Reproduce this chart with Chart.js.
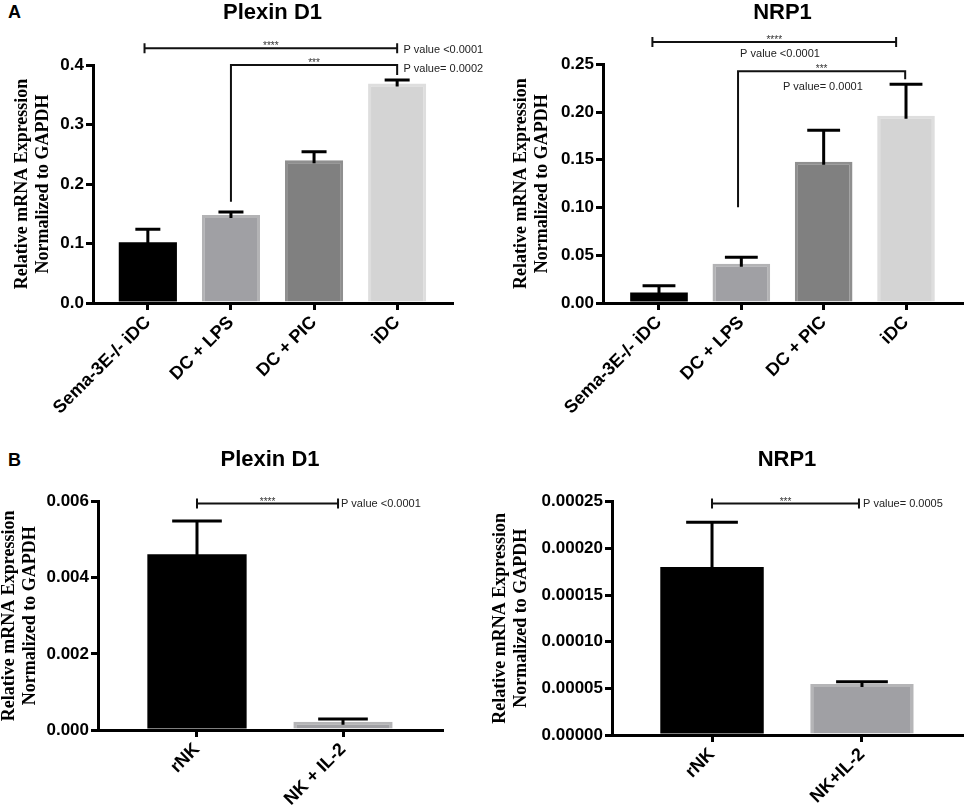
<!DOCTYPE html>
<html><head><meta charset="utf-8">
<script src="https://cdn.jsdelivr.net/npm/chart.js@4.4.0/dist/chart.umd.min.js"></script>
<style>
html,body{margin:0;padding:0;background:#fff;width:965px;height:806px;overflow:hidden;position:relative}
.p{position:absolute}
.lab{position:absolute;font:bold 18px "Liberation Sans",Arial,sans-serif;line-height:18px;color:#000}
</style></head><body>
<div class="lab" style="left:8px;top:3px">A</div>
<div class="lab" style="left:8px;top:451px">B</div>
<div class="p" style="left:0px;top:0px;width:484px;height:430px"><canvas id="k1"></canvas></div>
<div class="p" style="left:484px;top:0px;width:481px;height:430px"><canvas id="k2"></canvas></div>
<div class="p" style="left:-2px;top:430px;width:486px;height:376px"><canvas id="k3"></canvas></div>
<div class="p" style="left:484px;top:430px;width:481px;height:376px"><canvas id="k4"></canvas></div>
<script>
const FONT_SANS = '"Liberation Sans", Arial, sans-serif';
const FONT_SERIF = '"Liberation Serif", "Times New Roman", serif';

// ---- Panel A: Plexin D1 ----
const catsA = ['Sema-3E-/- iDC', 'DC + LPS', 'DC + PIC', 'iDC'];
const plexinA = [0.102, 0.148, 0.240, 0.369];
const plexinAsem = [0.022, 0.005, 0.014, 0.006];
const plexinATicks = ['0.0', '0.1', '0.2', '0.3', '0.4'];
// ---- Panel A: NRP1 ----
const nrpA = [0.011, 0.041, 0.148, 0.196];
const nrpAsem = [0.007, 0.007, 0.033, 0.033];
const nrpATicks = ['0.00', '0.05', '0.10', '0.15', '0.20', '0.25'];
// ---- Panel B: Plexin D1 ----
const catsB1 = ['rNK', 'NK + IL-2'];
const plexinB = [0.00462, 0.00022];
const plexinBsem = [0.00087, 0.00007];
const plexinBTicks = ['0.000', '0.002', '0.004', '0.006'];
// ---- Panel B: NRP1 ----
const catsB2 = ['rNK', 'NK+IL-2'];
const nrpB = [0.000180, 0.0000546];
const nrpBsem = [0.000048, 0.0000025];
const nrpBTicks = ['0.00000', '0.00005', '0.00010', '0.00015', '0.00020', '0.00025'];

const yTitle = ['Relative mRNA Expression', 'Normalized to GAPDH'];

// significance annotations (data units)
const sigA1 = [
  {x0: -0.04, x1: 3, y: 0.428, ends: 'caps', stars: '****'},
  {x0: 1, x1: 3, y: 0.400, ends: 'drop', d0: 0.17, d1: 0.383, stars: '***'}
];
const txtA1 = [
  {text: 'P value <0.0001', x: 3.075, y: 0.426, align: 'left'},
  {text: 'P value= 0.0002', x: 3.075, y: 0.393, align: 'left'}
];
const sigA2 = [
  {x0: -0.08, x1: 2.88, y: 0.2733, ends: 'caps', stars: '****'},
  {x0: 0.96, x1: 2.99, y: 0.2427, ends: 'drop', d0: 0.1004, d1: 0.2343, stars: '***'}
];
const txtA2 = [
  {text: 'P value <0.0001', x: 1.47, y: 0.2605, align: 'center'},
  {text: 'P value= 0.0001', x: 1.99, y: 0.226, align: 'center'}
];
const sigB1 = [{x0: 0, x1: 0.966, y: 0.00595, ends: 'caps', stars: '****'}];
const txtB1 = [{text: 'P value <0.0001', x: 0.986, y: 0.00595, align: 'left'}];
const sigB2 = [{x0: 0, x1: 0.98, y: 0.000248, ends: 'caps', stars: '***'}];
const txtB2 = [{text: 'P value= 0.0005', x: 1.007, y: 0.000248, align: 'left'}];

const fillsA = ['#000000', '#a0a0a4', '#808080', '#d4d4d4'];
const bordersA = ['#000000', '#b3b3b5', '#8f8f8f', '#dedede'];
const fillsB = ['#000000', '#a0a0a4'];
const bordersB = ['#000000', '#b5b5b7'];

function makeAnnot(sem, cap, sig, texts) {
  return {
    id: 'annot',
    afterDraw(chart) {
      const ctx = chart.ctx, xs = chart.scales.x, ys = chart.scales.y;
      const meta = chart.getDatasetMeta(0);
      const vals = chart.data.datasets[0].data;
      ctx.save();
      ctx.strokeStyle = '#000'; ctx.lineWidth = 3; ctx.lineCap = 'butt';
      meta.data.forEach((bar, i) => {
        const v = vals[i].y, e = sem[i];
        const top = ys.getPixelForValue(v + e), base = ys.getPixelForValue(v);
        const hw = bar.width * cap / 2;
        ctx.beginPath();
        ctx.moveTo(bar.x, base + 3); ctx.lineTo(bar.x, top);
        ctx.moveTo(bar.x - hw, top); ctx.lineTo(bar.x + hw, top);
        ctx.stroke();
      });
      ctx.lineWidth = 2; ctx.strokeStyle = '#111';
      sig.forEach(s => {
        const X0 = xs.getPixelForValue(s.x0), X1 = xs.getPixelForValue(s.x1), Y = ys.getPixelForValue(s.y);
        ctx.beginPath();
        ctx.moveTo(X0, Y); ctx.lineTo(X1, Y);
        if (s.ends === 'caps') {
          ctx.moveTo(X0, Y - 5); ctx.lineTo(X0, Y + 5);
          ctx.moveTo(X1, Y - 5); ctx.lineTo(X1, Y + 5);
        } else {
          ctx.moveTo(X0, Y - 1); ctx.lineTo(X0, ys.getPixelForValue(s.d0));
          ctx.moveTo(X1, Y - 1); ctx.lineTo(X1, ys.getPixelForValue(s.d1));
        }
        ctx.stroke();
        ctx.fillStyle = '#333'; ctx.font = '10px ' + FONT_SANS;
        ctx.textAlign = 'center'; ctx.textBaseline = 'alphabetic';
        ctx.fillText(s.stars, (X0 + X1) / 2, Y + 1);
      });
      ctx.fillStyle = '#222'; ctx.font = '11px ' + FONT_SANS; ctx.textBaseline = 'middle';
      texts.forEach(t => {
        ctx.textAlign = t.align;
        ctx.fillText(t.text, xs.getPixelForValue(t.x), ys.getPixelForValue(t.y));
      });
      ctx.restore();
    }
  };
}

function makeChart(id, cats, vals, sem, ticks, fills, borders, title, cfg) {
  const n = cats.length;
  const grid = {offset: false, drawOnChartArea: false, drawTicks: true, tickLength: 7,
                tickWidth: 3, lineWidth: 3, tickColor: '#000', color: '#000'};
  const border = {display: true, color: '#000', width: 3};
  new Chart(document.getElementById(id), {
    type: 'bar',
    data: {datasets: [{
      data: vals.map((v, i) => ({x: i, y: v})),
      backgroundColor: fills, borderColor: borders,
      borderWidth: fills.map(c => (c === '#000000' ? 0 : 3)),
      categoryPercentage: 1, barPercentage: cfg.bp
    }]},
    options: {
      responsive: true, maintainAspectRatio: false, animation: false,
      layout: {padding: cfg.pad},
      events: [],
      plugins: {
        legend: {display: false}, tooltip: {enabled: false},
        title: {display: true, text: title, fullSize: false, color: '#000',
                font: {family: FONT_SANS, size: 22, weight: 'bold', lineHeight: 1.2},
                padding: cfg.tpad}
      },
      scales: {
        x: {type: 'linear', offset: false, min: -cfg.off, max: n - 1 + cfg.off,
            afterBuildTicks: a => { a.ticks = cats.map((c, i) => ({value: i})); },
            afterFit: a => { a.height = cfg.xh; },
            grid: grid, border: border,
            ticks: {autoSkip: false, maxRotation: 45, minRotation: 45, padding: 2, color: '#000',
                    font: {family: FONT_SANS, size: 18, weight: 'bold'},
                    callback: (v, i) => cats[i]}},
        y: {type: 'linear', min: 0, max: parseFloat(ticks[ticks.length - 1]),
            afterBuildTicks: a => { a.ticks = ticks.map(t => ({value: parseFloat(t)})); },
            afterFit: a => { a.width = cfg.yw; },
            grid: grid, border: border,
            ticks: {padding: 2, color: '#000', font: {family: FONT_SANS, size: 17, weight: 'bold'},
                    callback: (v, i) => ticks[i]},
            title: {display: true, text: yTitle, color: '#000',
                    font: {family: FONT_SERIF, size: 18, weight: 'bold', lineHeight: 21 / 18},
                    padding: {top: 0, bottom: 0}}}
      }
    },
    plugins: [makeAnnot(sem, cfg.cap, cfg.sig, cfg.texts)]
  });
}

makeChart('k1', catsA, plexinA, plexinAsem, plexinATicks, fillsA, bordersA, 'Plexin D1', {
  pad: {left: 11.5, right: 32, top: 0, bottom: 0}, yw: 81.5, xh: 127,
  tpad: {top: 0, bottom: 38.6}, off: 0.66, bp: 0.7, cap: 0.43, sig: sigA1, texts: txtA1});
makeChart('k2', catsA, nrpA, nrpAsem, nrpATicks, fillsA, bordersA, 'NRP1', {
  pad: {left: 26.5, right: 3, top: 0, bottom: 0}, yw: 92.5, xh: 127,
  tpad: {top: 0, bottom: 37.9}, off: 0.68, bp: 0.7, cap: 0.57, sig: sigA2, texts: txtA2});
makeChart('k3', catsB1, plexinB, plexinBsem, plexinBTicks, fillsB, bordersB, 'Plexin D1', {
  pad: {left: 1, right: 42, top: 0, bottom: 0}, yw: 99, xh: 76,
  tpad: {top: 16.8, bottom: 28.5}, off: 0.678, bp: 0.68, cap: 0.5, sig: sigB1, texts: txtB1});
makeChart('k4', catsB2, nrpB, nrpBsem, nrpBTicks, fillsB, bordersB, 'NRP1', {
  pad: {left: 5.5, right: 3, top: 0, bottom: 0}, yw: 122.5, xh: 71,
  tpad: {top: 16.8, bottom: 28.5}, off: 0.667, bp: 0.69, cap: 0.5, sig: sigB2, texts: txtB2});
</script>
</body></html>
